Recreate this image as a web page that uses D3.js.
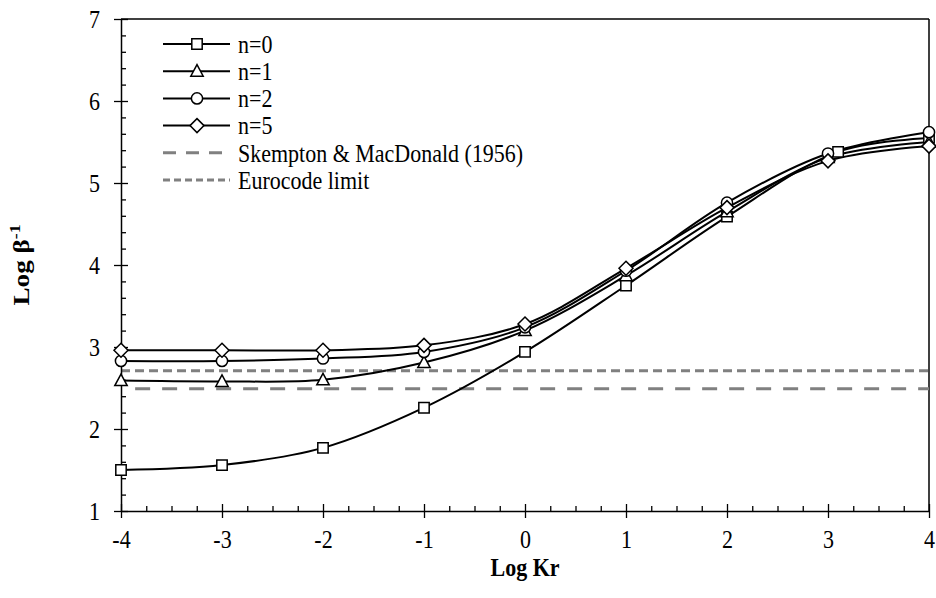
<!DOCTYPE html>
<html><head><meta charset="utf-8">
<script src="https://cdn.jsdelivr.net/npm/d3@7"></script>
<style>body{margin:0;background:#fff}svg{display:block}</style>
</head><body>
<svg id="c" width="936" height="598" font-family="Liberation Serif, Times New Roman, serif"></svg>
<script>
const xTicks = [-4,-3,-2,-1,0,1,2,3,4];
const yTicks = [1,2,3,4,5,6,7];
const xN0 = [-4,-3,-2,-1,0,1,2,3.1,4];
const yN0 = [1.50,1.56,1.77,2.26,2.94,3.75,4.59,5.38,5.55];
const xN = [-4,-3,-2,-1,0,1,2,3,4];
const yN1 = [2.59,2.58,2.60,2.81,3.20,3.87,4.65,5.31,5.50];
const yN2 = [2.83,2.83,2.86,2.94,3.24,3.93,4.76,5.36,5.62];
const yN5 = [2.96,2.96,2.96,3.02,3.28,3.96,4.70,5.27,5.45];
const skempton = 2.49;
const eurocode = 2.71;
const seriesNames = ["n=0","n=1","n=2","n=5"];
const refNames = ["Skempton & MacDonald (1956)","Eurocode limit"];

const FONT = "Liberation Serif, Times New Roman, serif";
const SY = 1.18; // vertical stretch of text in the reference
const svg = d3.select("#c");
const x = d3.scaleLinear().domain([-4,4]).range([121,929]);
const y = d3.scaleLinear().domain([1,7]).range([511,19]);

// custom symbols
const sq = {draw(c){const h=5.2;c.rect(-h,-h,2*h,2*h);}};
const tri = {draw(c){c.moveTo(0,-6.5);c.lineTo(6.2,5);c.lineTo(-6.2,5);c.closePath();}};
const cir = {draw(c){c.moveTo(5.6,0);c.arc(0,0,5.6,0,2*Math.PI);}};
const dia = {draw(c){c.moveTo(0,-7);c.lineTo(7,0);c.lineTo(0,7);c.lineTo(-7,0);c.closePath();}};

// frame top/right
svg.append("line").attr("x1",121).attr("x2",929).attr("y1",19).attr("y2",19).attr("stroke","#000").attr("stroke-width",1.5);
svg.append("line").attr("x1",929).attr("x2",929).attr("y1",19).attr("y2",511).attr("stroke","#000").attr("stroke-width",1.5);

// reference lines
svg.append("line").attr("x1",x(-3.86)).attr("x2",x(4)).attr("y1",y(skempton)).attr("y2",y(skempton))
  .attr("stroke","#808080").attr("stroke-width",3).attr("stroke-dasharray","15,12");
svg.append("line").attr("x1",x(-4)).attr("x2",x(4)).attr("y1",y(eurocode)).attr("y2",y(eurocode))
  .attr("stroke","#808080").attr("stroke-width",3).attr("stroke-dasharray","9,5");

// axes
const fmt = d => String(d);
const minorX = d3.range(-4,4.001,0.25).filter(v=>Math.abs(v-Math.round(v))>1e-6);
const minorY = d3.range(1,7.001,0.2).filter(v=>Math.abs(v-Math.round(v))>1e-6);
const gx = svg.append("g").attr("transform","translate(0,511)");
gx.call(d3.axisBottom(x).tickValues(minorX).tickSize(-5).tickFormat(""));
gx.call(g=>g.select(".domain").remove());
const gx2 = svg.append("g").attr("transform","translate(0,511)");
gx2.call(d3.axisBottom(x).tickValues(xTicks).tickSize(7).tickSizeOuter(0).tickPadding(12).tickFormat(fmt));
gx2.selectAll(".tick line").attr("y1",-7);
gx2.attr("font-family",FONT).attr("font-size",22);
gx2.selectAll(".tick text").attr("y",0).attr("dy",null).attr("transform",`translate(0,37) scale(1,${SY})`);
const gy = svg.append("g").attr("transform","translate(121,0)");
gy.call(d3.axisLeft(y).tickValues(minorY).tickSize(-5).tickFormat(""));
gy.call(g=>g.select(".domain").remove());
const gy2 = svg.append("g").attr("transform","translate(121,0)");
gy2.call(d3.axisLeft(y).tickValues(yTicks).tickSize(7).tickSizeOuter(0).tickPadding(14).tickFormat(fmt));
gy2.selectAll(".tick line").attr("x1",7);
gy2.attr("font-family",FONT).attr("font-size",22);
gy2.selectAll(".tick text").attr("transform",`scale(1,${SY})`);
svg.selectAll(".domain").attr("stroke-width",1.5);
svg.selectAll(".tick line").attr("stroke-width",1.3);

// series
const line = d3.line().x(d=>x(d[0])).y(d=>y(d[1])).curve(d3.curveCatmullRom.alpha(0.5));
const data = [
  {name:seriesNames[0], sym:sq, pts:xN0.map((v,i)=>[v,yN0[i]])},
  {name:seriesNames[1], sym:tri, pts:xN.map((v,i)=>[v,yN1[i]])},
  {name:seriesNames[2], sym:cir, pts:xN.map((v,i)=>[v,yN2[i]])},
  {name:seriesNames[3], sym:dia, pts:xN.map((v,i)=>[v,yN5[i]])}
];
data.forEach(s=>{
  svg.append("path").attr("d",line(s.pts)).attr("fill","none").attr("stroke","#000").attr("stroke-width",2);
});
data.forEach(s=>{
  svg.append("g").selectAll("path").data(s.pts).join("path")
    .attr("d",d3.symbol().type(s.sym))
    .attr("transform",d=>`translate(${x(d[0])},${y(d[1])})`)
    .attr("fill","#fff").attr("stroke","#000").attr("stroke-width",1.5);
});

// legend
const lg = svg.append("g").attr("font-family",FONT).attr("font-size",22);
const ly0 = 44, ldy = 27.2;
data.forEach((s,i)=>{
  const yy = ly0 + i*ldy;
  lg.append("line").attr("x1",163).attr("x2",230).attr("y1",yy).attr("y2",yy).attr("stroke","#000").attr("stroke-width",2);
  lg.append("path").attr("d",d3.symbol().type(s.sym)).attr("transform",`translate(197,${yy})`)
    .attr("fill","#fff").attr("stroke","#000").attr("stroke-width",1.5);
  lg.append("text").attr("transform",`translate(238,${yy}) scale(1,${SY})`).attr("dy","0.34em").text(s.name);
});
[0,1].forEach(j=>{
  const yy = ly0 + (4+j)*ldy;
  lg.append("line").attr("x1",163).attr("x2",230).attr("y1",yy).attr("y2",yy).attr("stroke","#808080").attr("stroke-width",3).attr("stroke-dasharray",j===0?"13,10":"7,4");
  lg.append("text").attr("transform",`translate(238,${yy}) scale(1,${SY})`).attr("dy","0.34em").text(refNames[j]);
});

// titles
svg.append("text").attr("transform",`translate(525,576) scale(1,1.12)`).attr("text-anchor","middle").attr("font-family",FONT).attr("font-size",22).attr("font-weight","bold").text("Log Kr");
const yt = svg.append("text").attr("transform",`translate(29,265) rotate(-90) scale(${SY},1)`).attr("text-anchor","middle").attr("font-family",FONT).attr("font-size",23).attr("font-weight","bold");
yt.append("tspan").text("Log β");
yt.append("tspan").attr("dy",-9).attr("font-size",15).text("-1");
</script>
</body></html>
